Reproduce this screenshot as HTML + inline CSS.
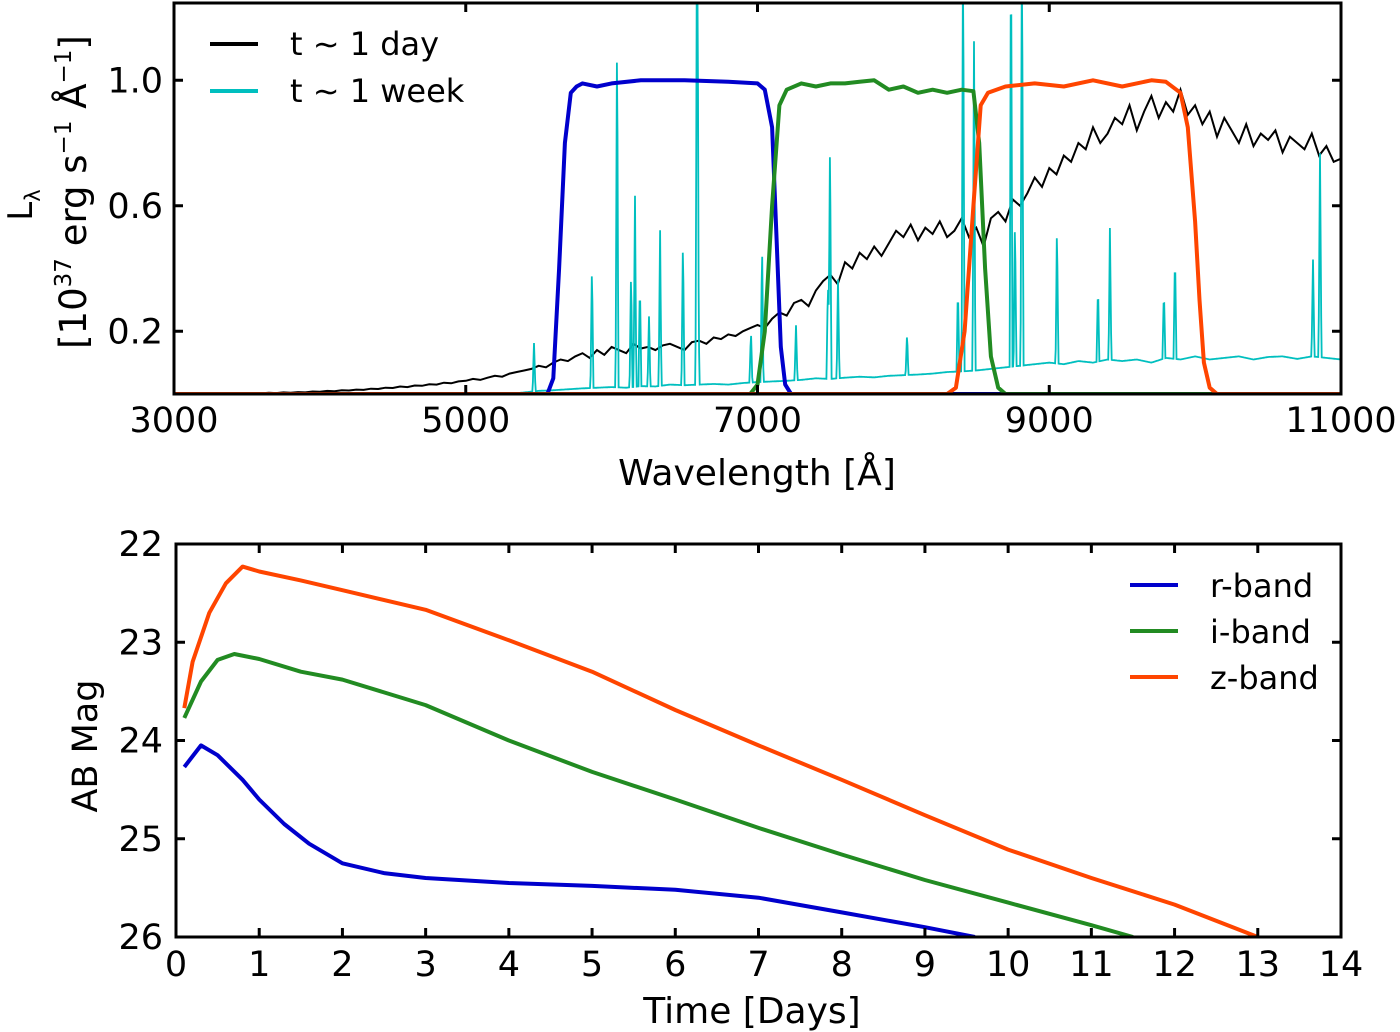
<!DOCTYPE html>
<html><head><meta charset="utf-8"><style>
html,body{margin:0;padding:0;background:#fff}
svg{display:block;font-family:"DejaVu Sans","Liberation Sans",sans-serif}
</style></head><body>
<svg id="fig" width="1400" height="1032" viewBox="0 0 1400 1032" xmlns="http://www.w3.org/2000/svg">
<defs>
<clipPath id="c1"><rect x="174" y="3" width="1167" height="391"/></clipPath>
<clipPath id="c2"><rect x="176" y="544" width="1165" height="393"/></clipPath>
</defs>
<g id="topPanel"></g>
<g id="botPanel"></g>
</svg>
<script>
// ---------- Spectrum data ----------
const daySpecStart = 3000, daySpecStep = 50;
const daySpec = [0,0,0,0,0,0,0,0,0,0, .002,.003,.002,.004,.003,.005,.004,.006,.005,.008,
.007,.010,.009,.012,.011,.014,.013,.017,.016,.020, .019,.024,.022,.027,.026,.031,.030,.036,.034,.040,
.042,.048,.045,.052,.058,.055,.065,.07,.075,.08, .09,.085,.10,.11,.105,.12,.13,.115,.14,.125,
.15,.14,.13,.16,.145,.15,.14,.155,.16,.15, .14,.165,.17,.16,.18,.175,.19,.185,.2,.21,
.22,.21,.24,.26,.25,.29,.3,.28,.33,.36, .38,.35,.42,.40,.45,.43,.47,.44,.48,.52,
.50,.54,.49,.53,.51,.55,.50,.52,.56,.50, .53,.47,.56,.58,.55,.62,.60,.64,.69,.66,
.72,.70,.76,.74,.80,.78,.85,.80,.83,.88, .86,.92,.84,.90,.95,.88,.93,.90,.97,.89,
.92,.86,.90,.82,.88,.84,.80,.86,.79,.83, .81,.84,.77,.82,.80,.78,.83,.76,.79,.74, .75];
const weekBaseStart = 3000, weekBaseStep = 100;
const weekBase = [0,0,0,0,0,0,0,0,0,0,0,0,0,0,0,0,0,0,0,0,0,0,0,0,
.005,.01,.012,.015,.018,.02,.022,.02,.025,.024,.03,.028,.03,.032,.03,.035,.038,.04,.042,.045,.05,.048,.052,.055,.053,.058,
.06,.062,.065,.07,.072,.075,.08,.085,.09,.095,.1,.095,.105,.1,.11,.105,.11,.1,.115,.11,.12,.11,.115,.12,.11,.118,.12,.112,.12,.115,.11];
const lineWave = [5468,5865,6037,6133,6160,6194,6256,6332,6489,6585,6592,6955,7031,7264,7497,7483,7552,8025,8374,8409,8484,8738,8813,8765,9053,9334,9416,9786,9862,10808,10856];
const lineHeight = [.154,.395,1.15,.373,.609,.338,.223,.496,.469,1.4,.523,.165,.443,.175,.785,.315,.315,.133,.272,1.4,1.05,1.4,1.4,.475,.443,.245,.42,.22,.341,.309,.65];
const rWave = [3000,5560,5600,5640,5680,5720,5760,5800,5900,6000,6200,6500,6800,7000,7050,7100,7130,7160,7190,7230,11000];
const rTrans = [0,0,0.05,0.4,0.8,0.96,0.98,0.99,0.98,0.99,1.0,1.0,0.995,0.99,0.97,0.85,0.5,0.15,0.03,0,0];
const iWave = [3000,6950,7000,7050,7100,7150,7200,7300,7400,7500,7600,7700,7800,7900,8000,8100,8200,8300,8400,8480,8520,8560,8600,8650,8700,11000];
const iTrans = [0,0,0.03,0.2,0.6,0.92,0.97,0.99,0.98,0.99,0.99,0.995,1.0,0.97,0.98,0.96,0.97,0.96,0.97,0.965,0.8,0.4,0.12,0.02,0,0];
const zWave = [3000,8300,8360,8420,8480,8530,8580,8700,8900,9100,9300,9500,9700,9800,9900,9950,10000,10030,10060,10100,10150,11000];
const zTrans = [0,0,0.02,0.2,0.6,0.92,0.96,0.98,0.99,0.98,1.0,0.98,1.0,0.995,0.96,0.85,0.55,0.3,0.1,0.02,0,0];
const wlTicks = [3000,5000,7000,9000,11000];
const lTicks = [0.2,0.6,1.0];
const lTickLabels = ["0.2","0.6","1.0"];
// ---------- Light curve data ----------
const rDays = [0.1,0.3,0.5,0.8,1.0,1.3,1.6,2.0,2.5,3,4,5,6,7,8,9,9.6];
const rMag = [24.27,24.05,24.15,24.4,24.6,24.85,25.05,25.25,25.35,25.4,25.45,25.48,25.52,25.6,25.75,25.9,26.0];
const iDays = [0.1,0.3,0.5,0.7,1.0,1.5,2,3,4,5,6,7,8,9,10,11,11.5];
const iMag = [23.77,23.4,23.18,23.12,23.17,23.3,23.38,23.64,24.0,24.32,24.6,24.89,25.16,25.42,25.65,25.88,26.0];
const zDays = [0.1,0.2,0.4,0.6,0.8,1.0,1.5,2,3,4,5,6,7,8,9,10,11,12,13];
const zMag = [23.67,23.2,22.7,22.4,22.23,22.28,22.37,22.47,22.67,22.98,23.3,23.69,24.05,24.4,24.76,25.11,25.4,25.67,26.0];
const dayTicks = [0,1,2,3,4,5,6,7,8,9,10,11,12,13,14];
const magTicks = [22,23,24,25,26];

const NS = "http://www.w3.org/2000/svg";
function mk(tag, attrs, parent, txt){
  const e = document.createElementNS(NS, tag);
  for (const k in attrs) e.setAttribute(k, attrs[k]);
  if (txt !== undefined) e.textContent = txt;
  parent.appendChild(e); return e;
}
const X1 = w => 174 + (w - 3000) / 8000 * 1167;
const Y1 = v => 394 - v * 313.75;
const X2 = d => 176 + d * 1165 / 14;
const Y2 = m => 544 + (m - 22) * 393 / 4;
function interp(xs, ys, x){
  for (let i = 1; i < xs.length; i++) if (x <= xs[i]) { const t = (x - xs[i-1]) / (xs[i]-xs[i-1]); return ys[i-1] + t*(ys[i]-ys[i-1]); }
  return ys[ys.length-1];
}

const topG = document.getElementById('topPanel');
const botG = document.getElementById('botPanel');

// --- top panel series ---
const g1 = mk('g', {'clip-path':'url(#c1)'}, topG);
let p = [];
for (let i = 0; i < daySpec.length; i++) p.push(X1(daySpecStart + i*daySpecStep).toFixed(1)+','+Y1(daySpec[i]).toFixed(1));
let el = mk('polyline', {points:p.join(' '), fill:'none', stroke:'#000', 'stroke-width':2}, g1);



const bw = weekBase.map((_, i) => weekBaseStart + i*weekBaseStep);
p = [];
for (let w = 3000; w <= 11000; w += 4) {
  let v = interp(bw, weekBase, w);
  for (let j = 0; j < lineWave.length; j++) { const d = Math.abs(w - lineWave[j]); if (d < 10) v += lineHeight[j] * (1 - d/10); }
  p.push(X1(w).toFixed(1)+','+Y1(v).toFixed(1));
}
el = mk('polyline', {points:p.join(' '), fill:'none', stroke:'#00bfbf', 'stroke-width':1.8}, g1);



[[rWave,rTrans,'#0000cc','r-filter-curve'],[iWave,iTrans,'#228b22','i-filter-curve'],[zWave,zTrans,'#ff4500','z-filter-curve']].forEach(f => {
  const pts = f[0].map((w,i) => X1(w).toFixed(1)+','+Y1(f[1][i]).toFixed(1)).join(' ');
  const e = mk('polyline', {points:pts, fill:'none', stroke:f[2], 'stroke-width':4, 'stroke-linejoin':'round'}, g1);
  
  
});

el = mk('rect', {x:174, y:3, width:1167, height:391, fill:'none', stroke:'#000', 'stroke-width':3}, topG);


wlTicks.forEach(w => {
  const x = X1(w);
  mk('line', {x1:x, x2:x, y1:394, y2:385, stroke:'#000', 'stroke-width':3}, topG);
  mk('line', {x1:x, x2:x, y1:3, y2:12, stroke:'#000', 'stroke-width':3}, topG);
  const t = mk('text', {x:x, y:432, 'font-size':35, 'text-anchor':'middle'}, topG, String(w));
  
  
});
lTicks.forEach((v, i) => {
  const y = Y1(v);
  mk('line', {x1:174, x2:183, y1:y, y2:y, stroke:'#000', 'stroke-width':3}, topG);
  mk('line', {x1:1341, x2:1332, y1:y, y2:y, stroke:'#000', 'stroke-width':3}, topG);
  const t = mk('text', {x:163, y:y+12, 'font-size':35, 'text-anchor':'end'}, topG, lTickLabels[i]);
  
  
});
topG.insertAdjacentHTML('beforeend',
 '<text x="757" y="485" font-size="36" text-anchor="middle">Wavelength [Å]</text>'+
 '<text transform="translate(32,205) rotate(-90)" font-size="34" text-anchor="middle">L<tspan font-size="21" dy="8">λ</tspan></text>'+
 '<text transform="translate(86,192) rotate(-90)" font-size="37" text-anchor="middle">[10<tspan font-size="23" dy="-15">37</tspan><tspan dy="15"> erg s</tspan><tspan font-size="23" dy="-15">−1</tspan><tspan dy="15"> Å</tspan><tspan font-size="23" dy="-15">−1</tspan><tspan dy="15">]</tspan></text>'+
 '<g>'+
 '<line x1="210" x2="258" y1="44" y2="44" stroke="#000" stroke-width="4"/>'+
 '<text x="290" y="55" font-size="32">t ∼ 1 day</text>'+
 '<line x1="210" x2="258" y1="91" y2="91" stroke="#00bfbf" stroke-width="4"/>'+
 '<text x="290" y="102" font-size="32">t ∼ 1 week</text></g>');

// --- bottom panel ---
const g2 = mk('g', {'clip-path':'url(#c2)'}, botG);
[[rDays,rMag,'#0000cc','r-band-line'],[iDays,iMag,'#228b22','i-band-line'],[zDays,zMag,'#ff4500','z-band-line']].forEach(s => {
  const pts = s[0].map((d,i) => X2(d).toFixed(1)+','+Y2(s[1][i]).toFixed(1)).join(' ');
  const e = mk('polyline', {points:pts, fill:'none', stroke:s[2], 'stroke-width':4, 'stroke-linejoin':'round'}, g2);
  
  
});
el = mk('rect', {x:176, y:544, width:1165, height:393, fill:'none', stroke:'#000', 'stroke-width':3}, botG);


dayTicks.forEach(d => {
  const x = X2(d);
  mk('line', {x1:x, x2:x, y1:937, y2:928, stroke:'#000', 'stroke-width':3}, botG);
  mk('line', {x1:x, x2:x, y1:544, y2:553, stroke:'#000', 'stroke-width':3}, botG);
  const t = mk('text', {x:x, y:976, 'font-size':35, 'text-anchor':'middle'}, botG, String(d));
  
  
});
magTicks.forEach(m => {
  const y = Y2(m);
  mk('line', {x1:176, x2:185, y1:y, y2:y, stroke:'#000', 'stroke-width':3}, botG);
  mk('line', {x1:1341, x2:1332, y1:y, y2:y, stroke:'#000', 'stroke-width':3}, botG);
  const t = mk('text', {x:163, y:y+12, 'font-size':35, 'text-anchor':'end'}, botG, String(m));
  
  
});
botG.insertAdjacentHTML('beforeend',
 '<text x="752" y="1023" font-size="36" text-anchor="middle">Time [Days]</text>'+
 '<text transform="translate(97,746) rotate(-90)" font-size="35" text-anchor="middle">AB Mag</text>'+
 '<g>'+
 '<line x1="1130" x2="1178" y1="585" y2="585" stroke="#0000cc" stroke-width="4"/>'+
 '<text x="1210" y="597" font-size="32">r-band</text>'+
 '<line x1="1130" x2="1178" y1="631" y2="631" stroke="#228b22" stroke-width="4"/>'+
 '<text x="1210" y="643" font-size="32">i-band</text>'+
 '<line x1="1130" x2="1178" y1="677" y2="677" stroke="#ff4500" stroke-width="4"/>'+
 '<text x="1210" y="689" font-size="32">z-band</text></g>');
</script>
</body></html>
